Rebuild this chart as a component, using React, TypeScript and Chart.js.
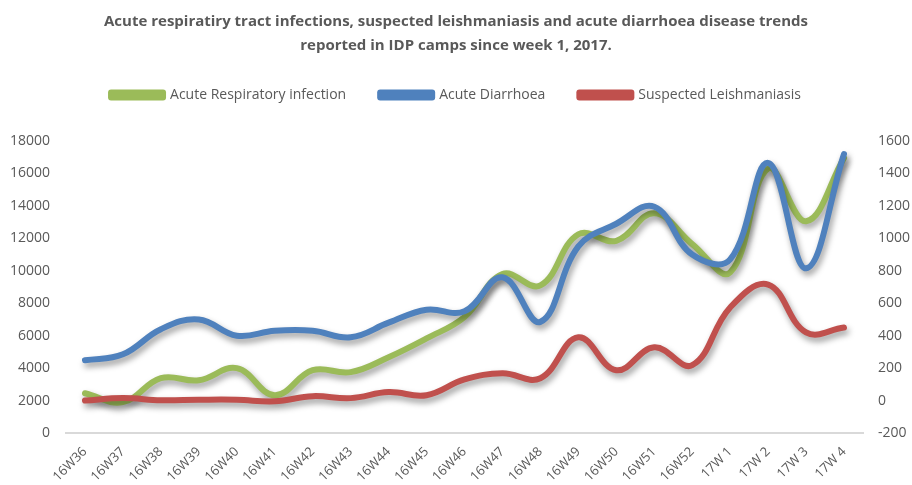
import React, { useEffect, useRef } from "react";
import { Chart, registerables } from "chart.js";

Chart.register(...registerables);

const weeks = ["16W36","16W37","16W38","16W39","16W40","16W41","16W42","16W43","16W44","16W45","16W46","16W47","16W48","16W49","16W50","16W51","16W52","17W 1","17W 2","17W 3","17W 4"];
const respiratory = [2450,1900,3380,3250,4000,2330,3870,3750,4670,5830,7150,9800,9100,12250,11850,13550,11650,9900,16300,13050,16950];
const diarrhoea = [4480,4850,6400,7000,6000,6300,6300,5900,6800,7600,7500,9600,6850,11500,12900,13950,11000,10700,16650,10150,17200];
const leishmaniasis = [0,15,2,5,5,-5,27,15,52,33,130,168,138,390,187,328,218,574,715,420,450];

const title = ["Acute respiratiry tract infections, suspected leishmaniasis and acute diarrhoea disease trends", "reported in IDP camps since week 1, 2017."];

export default function App() {
  const ref = useRef<HTMLCanvasElement>(null);
  useEffect(() => {
    const shadow = {
      id: "shadow",
      beforeDatasetsDraw(chart: any) {
        const ctx = chart.ctx;
        ctx.save();
        ctx.shadowColor = "rgba(0,0,0,0.4)";
        ctx.shadowBlur = 6;
        ctx.shadowOffsetX = 2;
        ctx.shadowOffsetY = 4;
      },
      afterDatasetsDraw(chart: any) {
        chart.ctx.restore();
      },
    };
    const legendMargin = {
      id: "legendMargin",
      beforeInit(chart: any) {
        const orig = chart.legend.fit;
        chart.legend.fit = function () {
          orig.bind(chart.legend)();
          this.height += 29;
        };
      },
    };
    const tickColor = "#595959";
    const font = { family: "'Open Sans', sans-serif", size: 14 };
    const chart = new Chart(ref.current!, {
      type: "line",
      data: {
        labels: weeks,
        datasets: [
          { label: "Acute Respiratory infection", data: respiratory, borderColor: "#9BBB59", backgroundColor: "#9BBB59", yAxisID: "y", order: 3 },
          { label: "Acute Diarrhoea", data: diarrhoea, borderColor: "#4F81BD", backgroundColor: "#4F81BD", yAxisID: "y", order: 2 },
          { label: "Suspected Leishmaniasis", data: leishmaniasis, borderColor: "#C0504D", backgroundColor: "#C0504D", yAxisID: "y1", order: 1 },
        ],
      },
      options: {
        animation: false,
        responsive: false,
        maintainAspectRatio: false,
        layout: { padding: { left: 0, right: 0, top: 2, bottom: 1 } },
        elements: {
          line: { borderWidth: 6, tension: 0.4, borderCapStyle: "round", borderJoinStyle: "round" },
          point: { radius: 0, hoverRadius: 0 },
        },
        plugins: {
          title: {
            display: true,
            text: title,
            color: "#595959",
            font: { family: "'Open Sans', sans-serif", size: 15, weight: "bold", lineHeight: 1.6 },
            padding: { top: 8, bottom: -4 },
          },
          legend: {
            display: true,
            labels: {
              color: "#595959",
              font,
              boxWidth: 52,
              boxHeight: 5,
              padding: 34,
              sort: (a: any, b: any) => a.datasetIndex - b.datasetIndex,
            },
          },
          tooltip: { enabled: false },
        },
        scales: {
          x: {
            offset: true,
            grid: { display: false, drawTicks: false },
            border: { display: true, color: "#D9D9D9", width: 2 },
            afterFit: (s: any) => { s.height = 51; },
            ticks: { color: tickColor, font: { ...font, size: 13 }, minRotation: 45, maxRotation: 45, padding: 11 },
          },
          y: {
            position: "left",
            min: 0,
            max: 18000,
            grid: { display: false, drawTicks: false },
            border: { display: false },
            afterFit: (s: any) => { s.width = 66; },
            ticks: { stepSize: 2000, color: tickColor, font, padding: 16, callback: (v: any) => String(v) },
          },
          y1: {
            position: "right",
            min: -200,
            max: 1600,
            grid: { display: false, drawTicks: false },
            border: { display: false },
            afterFit: (s: any) => { s.width = 49; },
            ticks: { stepSize: 200, color: tickColor, font, padding: 15, callback: (v: any) => String(v) },
          },
        },
      },
      plugins: [shadow, legendMargin],
    } as any);
    return () => chart.destroy();
  }, []);
  return (
    <div style={{ position: "fixed", left: 0, top: 0, width: 912, height: 485, background: "#fff" }}>
      <canvas ref={ref} width={912} height={485} style={{ width: 912, height: 485 }} />
    </div>
  );
}
